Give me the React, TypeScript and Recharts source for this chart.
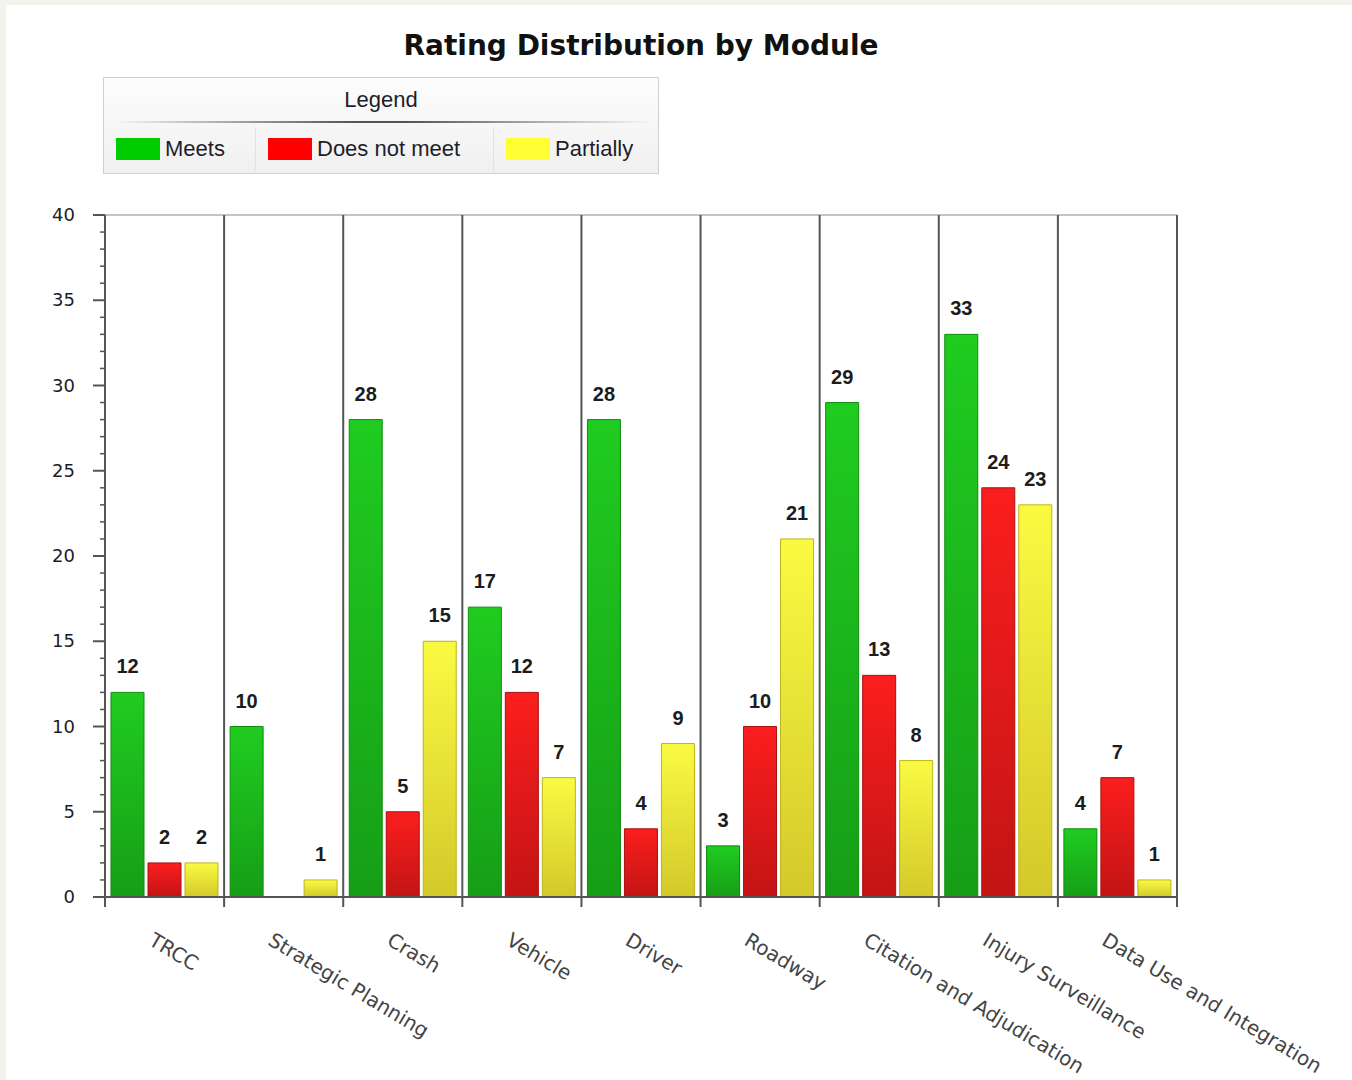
import React from 'react';
import { BarChart, Bar, XAxis, YAxis, LabelList, ReferenceLine } from 'recharts';

const modules = [
  'TRCC',
  'Strategic Planning',
  'Crash',
  'Vehicle',
  'Driver',
  'Roadway',
  'Citation and Adjudication',
  'Injury Surveillance',
  'Data Use and Integration',
];
const meets = [12, 10, 28, 17, 28, 3, 29, 33, 4];
const doesNotMeet = [2, 0, 5, 12, 4, 10, 13, 24, 7];
const partially = [2, 1, 15, 7, 9, 21, 8, 23, 1];

const yMajorTicks = [0, 5, 10, 15, 20, 25, 30, 35, 40];
const yAllTicks = [
  0, 1, 2, 3, 4, 5, 6, 7, 8, 9, 10, 11, 12, 13, 14, 15, 16, 17, 18, 19, 20,
  21, 22, 23, 24, 25, 26, 27, 28, 29, 30, 31, 32, 33, 34, 35, 36, 37, 38, 39, 40,
];

const series = [
  { key: 'meets', name: 'Meets', values: meets, swatch: '#00cc00', top: '#20cc20', bottom: '#169e16', stroke: '#0f8c0f' },
  { key: 'doesNotMeet', name: 'Does not meet', values: doesNotMeet, swatch: '#ff0000', top: '#fb1e1e', bottom: '#c31414', stroke: '#a80f0f' },
  { key: 'partially', name: 'Partially', values: partially, swatch: '#ffff33', top: '#fafa42', bottom: '#d3c92a', stroke: '#bcb31e' },
];

const data = modules.map((m, i) => {
  const row: any = { module: m };
  series.forEach((s) => {
    row[s.key] = s.values[i];
  });
  return row;
});

const YTick = (props: any) => {
  const { x, y, payload } = props;
  const major = yMajorTicks.includes(payload.value);
  return (
    <g>
      <line x1={x - (major ? 12 : 5)} x2={x} y1={y} y2={y} stroke="#555" strokeWidth={major ? 2 : 1.5} />
      {major && (
        <text x={x - 30} y={y} dy={6} textAnchor="end" fill="#1c1c28" fontSize={18} fontFamily="DejaVu Sans">
          {payload.value}
        </text>
      )}
    </g>
  );
};

const XTick = (props: any) => {
  const { x, y, payload, index } = props;
  const half = typeof payload.offset === 'number' ? payload.offset : 0;
  const ax = x - 17;
  const ay = y + 47;
  return (
    <g>
      {half > 0 && <line x1={x - half} x2={x - half} y1={y} y2={y + 10} stroke="#555" strokeWidth={2} />}
      {half > 0 && index === modules.length - 1 && (
        <line x1={x + half} x2={x + half} y1={y} y2={y + 10} stroke="#555" strokeWidth={2} />
      )}
      <text
        x={ax}
        y={ay}
        textAnchor="start"
        fill="#444"
        fontSize={20}
        fontFamily="DejaVu Sans"
        transform={`rotate(31, ${ax}, ${ay})`}
      >
        {payload.value}
      </text>
    </g>
  );
};

const legendCells = [151, 238, 165];

export default function App() {
  return (
    <div style={{ position: 'absolute', left: 0, top: 0, width: 1352, height: 1080, background: '#f3f2ec', overflow: 'hidden' }}>
      <div style={{ position: 'absolute', left: 6, top: 5, right: 0, bottom: 0, background: '#ffffff' }} />
      <div
        style={{
          position: 'absolute',
          left: 0,
          width: 1282,
          top: 29,
          textAlign: 'center',
          fontFamily: 'DejaVu Sans',
          fontWeight: 'bold',
          fontSize: 28,
          color: '#111',
          whiteSpace: 'nowrap',
        }}
      >
        Rating Distribution by Module
      </div>
      <div
        style={{
          position: 'absolute',
          left: 103,
          top: 77,
          width: 556,
          height: 97,
          boxSizing: 'border-box',
          border: '1px solid #cfcfcf',
          background: 'linear-gradient(to bottom, #fdfdfd, #f0f0f0)',
          fontFamily: 'Liberation Sans',
          fontSize: 22,
          color: '#1e1e2a',
        }}
      >
        <div style={{ height: 43, lineHeight: '44px', textAlign: 'center' }}>Legend</div>
        <div
          style={{
            height: 2,
            margin: '0 8px',
            background: 'linear-gradient(to right, rgba(80,80,80,0), #555 45%, #555 55%, rgba(80,80,80,0))',
          }}
        />
        <div style={{ display: 'flex', height: 50 }}>
          {series.map((s, i) => (
            <div
              key={s.key}
              style={{
                width: legendCells[i],
                display: 'flex',
                alignItems: 'center',
                paddingLeft: 12,
                boxSizing: 'border-box',
                borderLeft: i > 0 ? '1px solid #e2e2e2' : 'none',
                margin: '4px 0 2px 0',
              }}
            >
              <div style={{ width: 44, height: 22, background: s.swatch, marginRight: 5, flex: 'none' }} />
              <span style={{ whiteSpace: 'nowrap' }}>{s.name}</span>
            </div>
          ))}
        </div>
      </div>
      <div style={{ position: 'absolute', left: 0, top: 0 }}>
        <BarChart
          width={1352}
          height={1080}
          data={data}
          margin={{ top: 215, right: 175, bottom: 182, left: 45 }}
          barCategoryGap={6}
          barGap={4}
        >
          <defs>
            {series.map((s) => (
              <linearGradient key={s.key} id={`grad-${s.key}`} x1="0" y1="0" x2="0" y2="1">
                <stop offset="0%" stopColor={s.top} />
                <stop offset="100%" stopColor={s.bottom} />
              </linearGradient>
            ))}
          </defs>
          <XAxis
            dataKey="module"
            height={1}
            interval={0}
            tickLine={false}
            tickSize={0}
            tickMargin={0}
            axisLine={{ stroke: '#555', strokeWidth: 2 }}
            tick={<XTick />}
          />
          <YAxis
            domain={[0, 40]}
            ticks={yAllTicks}
            interval={0}
            width={60}
            tickSize={0}
            tickMargin={0}
            tickLine={false}
            axisLine={{ stroke: '#555', strokeWidth: 2 }}
            tick={<YTick />}
          />
          <ReferenceLine y={40} stroke="#c4c4c4" strokeWidth={2} />
          {modules.map((m) => (
            <ReferenceLine key={m} x={m} position="start" stroke="#555" strokeWidth={2} />
          ))}
          <ReferenceLine x={modules[modules.length - 1]} position="end" stroke="#555" strokeWidth={2} />
          {series.map((s) => (
            <Bar
              key={s.key}
              dataKey={s.key}
              name={s.name}
              fill={`url(#grad-${s.key})`}
              stroke={s.stroke}
              strokeWidth={1}
              isAnimationActive={false}
            >
              <LabelList
                dataKey={s.key}
                position="top"
                offset={19}
                formatter={(v: any) => (v === 0 ? '' : v)}
                fill="#1c1c1c"
                fontSize={20}
                fontWeight="bold"
                fontFamily="Liberation Sans"
              />
            </Bar>
          ))}
        </BarChart>
      </div>
    </div>
  );
}
